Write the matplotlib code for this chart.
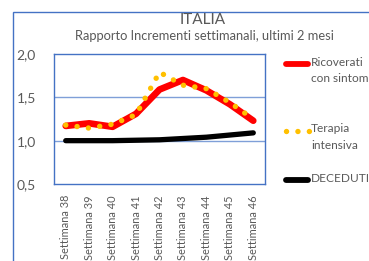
import matplotlib
matplotlib.use("Agg")
import matplotlib.pyplot as plt
from matplotlib.lines import Line2D
from matplotlib.patches import Rectangle

plt.rcParams['font.family'] = ['Lato', 'DejaVu Sans']

# dati
settimane = ['Settimana 38', 'Settimana 39', 'Settimana 40', 'Settimana 41', 'Settimana 42',
             'Settimana 43', 'Settimana 44', 'Settimana 45', 'Settimana 46']
ricoverati = [1.17, 1.20, 1.16, 1.31, 1.59, 1.70, 1.58, 1.42, 1.23]
terapia = [1.18, 1.145, 1.19, 1.30, 1.79, 1.64, 1.60, 1.44, 1.25]
deceduti = [1.00, 1.00, 1.00, 1.005, 1.01, 1.025, 1.04, 1.065, 1.09]
yticks = [0.5, 1.0, 1.5, 2.0]
ylabels = ['0,5', '1,0', '1,5', '2,0']

W, H = 369, 261
blu = '#4472C4'
grigio = '#595959'
punti = (0.01, 2.1)   # linea a pallini tipo Excel

fig = plt.figure(figsize=(W / 100, H / 100), dpi=100)
ax = fig.add_axes([54 / W, 1 - 184 / H, (265 - 54) / W, (184 - 54) / H])

x = list(range(len(settimane)))
ax.plot(x, ricoverati, color='#FF0000', lw=4.8, solid_capstyle='round', solid_joinstyle='round', zorder=3)
ax.plot(x, terapia, color='#FFC000', lw=3.9, dashes=punti, dash_capstyle='round', zorder=4)
ax.plot(x, deceduti, color='black', lw=3.8, solid_capstyle='round', zorder=3)

ax.set_xlim(-0.5, 8.5)
ax.set_ylim(0.5, 2.0)
ax.set_yticks(yticks)
ax.set_yticklabels(ylabels, color=grigio, fontsize=10)
ax.set_xticks(x)
ax.set_xticklabels(settimane, rotation=90, color=grigio, fontsize=7.9, va='top', ha='center')
ax.tick_params(length=0)
ax.tick_params(axis='y', pad=13)
ax.tick_params(axis='x', pad=8)
for s in ax.spines.values():
    s.set_color(blu)
    s.set_linewidth(1.0)
for v in [1.0, 1.5]:
    ax.axhline(v, color='#7F9FD8', lw=1.0, zorder=1)

# titolo
fig.text(203 / W, 1 - 24 / H, 'ITALIA', ha='center', va='baseline', fontsize=11, color=grigio)
fig.text(204 / W, 1 - 40 / H, 'Rapporto Incrementi settimanali, ultimi 2 mesi', ha='center', va='baseline',
         fontsize=9.3, color=grigio)

# bordo esterno
fig.patches.append(Rectangle((13 / W, -0.1), 1.2, 1.1 - 12 / H, transform=fig.transFigure,
                             fill=False, edgecolor=blu, lw=1.0))

# legenda
voci = [('#FF0000', '-', 64, 'Ricoverati\ncon sintomi'),
        ('#FFC000', ':', 131, 'Terapia\nintensiva'),
        ('black', '-', 180, 'DECEDUTI')]
for col, st, yy, lab in voci:
    if st == ':':
        fig.lines.append(Line2D([286 / W, 309 / W], [1 - yy / H] * 2, transform=fig.transFigure,
                                color=col, lw=3.9, dashes=punti, dash_capstyle='round'))
    else:
        fig.lines.append(Line2D([286 / W, 308 / W], [1 - yy / H] * 2, transform=fig.transFigure,
                                color=col, lw=4.2, solid_capstyle='round'))
    fig.text(311 / W, 1 - (yy - 7.5) / H, lab, ha='left', va='top', fontsize=8.6, color=grigio,
             linespacing=1.6)

fig.savefig('out.png', dpi=100, facecolor='white')
